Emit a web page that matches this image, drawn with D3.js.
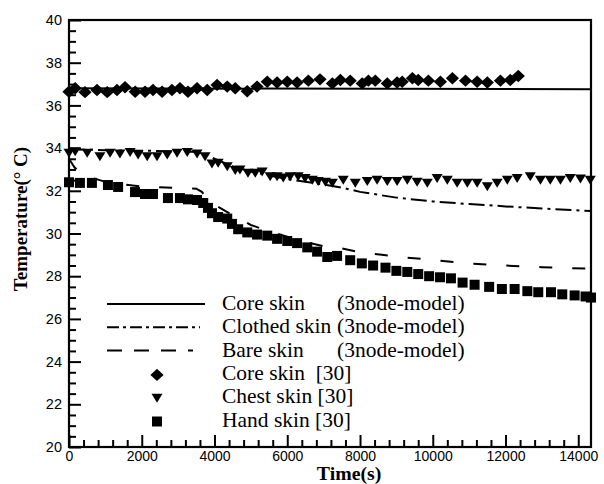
<!DOCTYPE html>
<html>
<head>
<meta charset="utf-8">
<script src="https://cdn.jsdelivr.net/npm/d3@7"></script>
<style>
  html, body { margin: 0; padding: 0; background: #fff; }
  svg { display: block; }
  text { white-space: pre; }
</style>
</head>
<body>
<svg id="chart" width="604" height="484"></svg>
<script>
// ---------------- data (time in s, temperature in °C) ----------------
const xTicks = [0, 2000, 4000, 6000, 8000, 10000, 12000, 14000];
const yTicks = [20, 22, 24, 26, 28, 30, 32, 34, 36, 38, 40];

const coreModel = [[0, 36.8], [14350, 36.76]];

const clothedModel = [
  [0, 33.95], [1000, 33.9], [2000, 33.88], [3000, 33.85], [3500, 33.82],
  [3800, 33.7], [4000, 33.5], [4500, 33.15], [5000, 32.9], [5500, 32.72],
  [6000, 32.55], [6500, 32.42], [7000, 32.3], [7500, 32.15], [8000, 31.95],
  [9000, 31.68], [10000, 31.5], [11000, 31.38], [12000, 31.27],
  [13000, 31.17], [14350, 31.05]
];

const bareModel = [
  [0, 33.5], [150, 33.1], [300, 32.85], [500, 32.68], [1000, 32.42],
  [1500, 32.3], [2000, 32.2], [3000, 32.13], [3500, 32.1], [3650, 31.95],
  [3800, 31.65], [4000, 31.35], [4500, 30.85], [5000, 30.4], [5500, 30.1],
  [6000, 29.85], [6500, 29.6], [7000, 29.4], [7500, 29.3], [8000, 29.12],
  [8600, 29.0], [9100, 28.9], [10000, 28.76], [11000, 28.6], [12000, 28.5],
  [13000, 28.42], [14350, 28.35]
];

const coreData = [
  [0, 36.64], [170, 36.8], [440, 36.62], [770, 36.72], [1050, 36.62],
  [1320, 36.72], [1540, 36.85], [1820, 36.64], [2090, 36.64], [2310, 36.72],
  [2560, 36.64], [2830, 36.72], [3050, 36.8], [3270, 36.64], [3520, 36.8],
  [3800, 36.72], [4070, 36.96], [4350, 36.88], [4570, 36.8], [4900, 36.66],
  [5170, 36.88], [5450, 37.11], [5720, 37.07], [6000, 37.11], [6270, 37.07],
  [6580, 37.16], [6900, 37.22], [7240, 37.03], [7460, 37.19], [7730, 37.16],
  [8060, 37.03], [8230, 37.16], [8420, 37.16], [8750, 37.03], [9020, 37.07],
  [9160, 37.11], [9440, 37.27], [9600, 37.19], [9880, 37.16], [10210, 37.11],
  [10540, 37.27], [10900, 37.16], [11220, 37.11], [11500, 37.07],
  [11860, 37.16], [12130, 37.19], [12350, 37.38]
];

const chestData = [
  [0, 33.76], [170, 33.83], [500, 33.76], [850, 33.6], [1130, 33.76],
  [1400, 33.72], [1680, 33.79], [1900, 33.68], [2150, 33.6], [2420, 33.6],
  [2700, 33.68], [2970, 33.76], [3250, 33.79], [3520, 33.72], [3740, 33.6],
  [3930, 33.25], [4100, 33.29], [4350, 33.13], [4570, 32.95], [4700, 32.97],
  [4920, 32.82], [5120, 32.82], [5310, 32.88], [5530, 32.66], [5720, 32.66],
  [5890, 32.6], [6080, 32.66], [6300, 32.66], [6490, 32.58], [6690, 32.5],
  [6850, 32.43], [7050, 32.4], [7240, 32.35], [7540, 32.5], [7870, 32.35],
  [8200, 32.43], [8470, 32.5], [8750, 32.43], [9020, 32.43], [9300, 32.5],
  [9570, 32.4], [9850, 32.35], [10120, 32.58], [10400, 32.5], [10670, 32.35],
  [10950, 32.35], [11220, 32.35], [11500, 32.19], [11770, 32.35],
  [12050, 32.5], [12320, 32.58], [12680, 32.66], [12960, 32.5], [13230, 32.5],
  [13510, 32.5], [13780, 32.58], [14060, 32.55], [14330, 32.5]
];

const handData = [
  [0, 32.4], [300, 32.37], [630, 32.37], [1070, 32.27], [1350, 32.18],
  [1815, 31.94], [2090, 31.85], [2310, 31.85], [2720, 31.66], [3050, 31.66],
  [3270, 31.6], [3520, 31.57], [3690, 31.43], [3820, 31.2], [3930, 30.95],
  [4100, 30.77], [4350, 30.7], [4480, 30.45], [4650, 30.2], [4900, 30.05],
  [5170, 29.95], [5450, 29.9], [5720, 29.75], [6000, 29.65], [6270, 29.55],
  [6550, 29.35], [6820, 29.15], [7100, 28.9], [7370, 28.95], [7730, 28.75],
  [8050, 28.6], [8360, 28.5], [8700, 28.4], [9000, 28.25], [9300, 28.2],
  [9600, 28.1], [9900, 28.0], [10200, 27.95], [10500, 27.9], [10820, 27.7],
  [11150, 27.6], [11550, 27.5], [11900, 27.4], [12250, 27.4], [12600, 27.3],
  [12900, 27.25], [13250, 27.25], [13560, 27.15], [13900, 27.1],
  [14200, 27.05], [14350, 27.0]
];

const legendLines = [
  { name: "Core skin", source: "(3node-model)", dash: null },
  { name: "Clothed skin", source: "(3node-model)", dash: "12,4,3,4" },
  { name: "Bare skin", source: "(3node-model)", dash: "15,12" }
];
const legendMarkers = [
  { name: "Core skin  [30]", shape: "diamond" },
  { name: "Chest skin [30]", shape: "triangle" },
  { name: "Hand skin [30]", shape: "square" }
];

// ---------------- layout ----------------
const svg = d3.select("#chart");
const L = 69, R = 591, T = 20, B = 447;
const x = d3.scaleLinear().domain([0, 14350]).range([L, R]);
const y = d3.scaleLinear().domain([20, 40]).range([B, T]);

const tickFont = "'Liberation Sans', Arial, sans-serif";
const serif = "'Liberation Serif', 'Times New Roman', serif";

// custom symbol types
const diamond = { draw(ctx) { ctx.moveTo(0, -6.2); ctx.lineTo(6.6, 0); ctx.lineTo(0, 6.2); ctx.lineTo(-6.6, 0); ctx.closePath(); } };
const triDown = { draw(ctx) { ctx.moveTo(-5.5, -4.5); ctx.lineTo(5.5, -4.5); ctx.lineTo(0, 4.5); ctx.closePath(); } };
const square = { draw(ctx) { ctx.rect(-5, -5, 10, 10); } };
const shapes = { diamond: d3.symbol(diamond), triangle: d3.symbol(triDown), square: d3.symbol(square) };

// ---------------- model lines ----------------
const line = d3.line().x(d => x(d[0])).y(d => y(d[1]));
svg.append("path").datum(coreModel).attr("d", line)
  .attr("fill", "none").attr("stroke", "#000").attr("stroke-width", 2);
svg.append("path").datum(clothedModel).attr("d", line)
  .attr("fill", "none").attr("stroke", "#000").attr("stroke-width", 2)
  .attr("stroke-dasharray", "16,5,3,5");
svg.append("path").datum(bareModel).attr("d", line)
  .attr("fill", "none").attr("stroke", "#000").attr("stroke-width", 2)
  .attr("stroke-dasharray", "13,20");

// ---------------- markers ----------------
function drawMarkers(data, shape) {
  svg.append("g").selectAll("path").data(data).join("path")
    .attr("transform", d => `translate(${x(d[0])},${y(d[1])})`)
    .attr("d", shapes[shape]())
    .attr("fill", "#000");
}
drawMarkers(coreData, "diamond");
drawMarkers(chestData, "triangle");
drawMarkers(handData, "square");

// ---------------- axes ----------------
const minorX = d3.range(0, 14350, 400).filter(v => v % 2000 !== 0);
const minorY = d3.range(20, 40, 0.5).filter(v => v % 2 !== 0);

const gx = svg.append("g").attr("transform", `translate(0,${B})`);
gx.call(d3.axisBottom(x).tickValues(minorX).tickFormat("").tickSize(-7));
gx.call(g => g.select(".domain").remove());
const gx2 = svg.append("g").attr("transform", `translate(0,${B})`);
gx2.call(d3.axisBottom(x).tickValues(xTicks).tickFormat(d3.format("d")).tickSize(-12).tickPadding(4));
gx2.call(g => g.select(".domain").remove());

const gy = svg.append("g").attr("transform", `translate(${L},0)`);
gy.call(d3.axisLeft(y).tickValues(minorY).tickFormat("").tickSize(-7));
gy.call(g => g.select(".domain").remove());
const gy2 = svg.append("g").attr("transform", `translate(${L},0)`);
gy2.call(d3.axisLeft(y).tickValues(yTicks).tickFormat(d3.format("d")).tickSize(-12).tickPadding(7));
gy2.call(g => g.select(".domain").remove());

svg.selectAll(".tick line").attr("stroke", "#000").attr("stroke-width", 2);
svg.selectAll(".tick text").attr("font-family", tickFont).attr("font-size", 14.5).attr("fill", "#000");
gx2.selectAll(".tick text").attr("font-size", 14);

svg.append("rect").attr("x", L).attr("y", T).attr("width", R - L).attr("height", B - T)
  .attr("fill", "none").attr("stroke", "#000").attr("stroke-width", 2.2);

// ---------------- titles ----------------
svg.append("text").attr("transform", `translate(${x(7700)},479.5) scale(1.1,1)`)
  .attr("text-anchor", "middle").attr("font-family", serif)
  .attr("font-weight", "bold").attr("font-size", 18).text("Time(s)");
svg.append("text").attr("transform", "translate(27,219) rotate(-90)")
  .attr("text-anchor", "middle").attr("font-family", serif)
  .attr("font-weight", "bold").attr("font-size", 19).text("Temperature(° C)");

// ---------------- legend ----------------
const lg = svg.append("g");
const rowBase = 310, rowStep = 23.3, textX = 222, srcX = 337;
function legendText(xp, yb, s) {
  lg.append("text").attr("transform", `translate(${xp},${yb}) scale(1.075,1)`)
    .attr("font-family", serif).attr("font-size", 20).text(s);
}
legendLines.forEach((d, i) => {
  const yb = rowBase + i * rowStep;
  lg.append("line").attr("x1", 107).attr("x2", i === 0 ? 205 : (i === 1 ? 200 : 193))
    .attr("y1", yb - 6).attr("y2", yb - 6)
    .attr("stroke", "#000").attr("stroke-width", 2)
    .attr("stroke-dasharray", d.dash);
  legendText(textX, yb, d.name);
  legendText(srcX, yb, d.source);
});
legendMarkers.forEach((d, i) => {
  const yb = rowBase + (i + 3) * rowStep;
  lg.append("path").attr("transform", `translate(157,${yb - 5})`)
    .attr("d", shapes[d.shape]()).attr("fill", "#000");
  legendText(textX, yb, d.name);
});
</script>
</body>
</html>
